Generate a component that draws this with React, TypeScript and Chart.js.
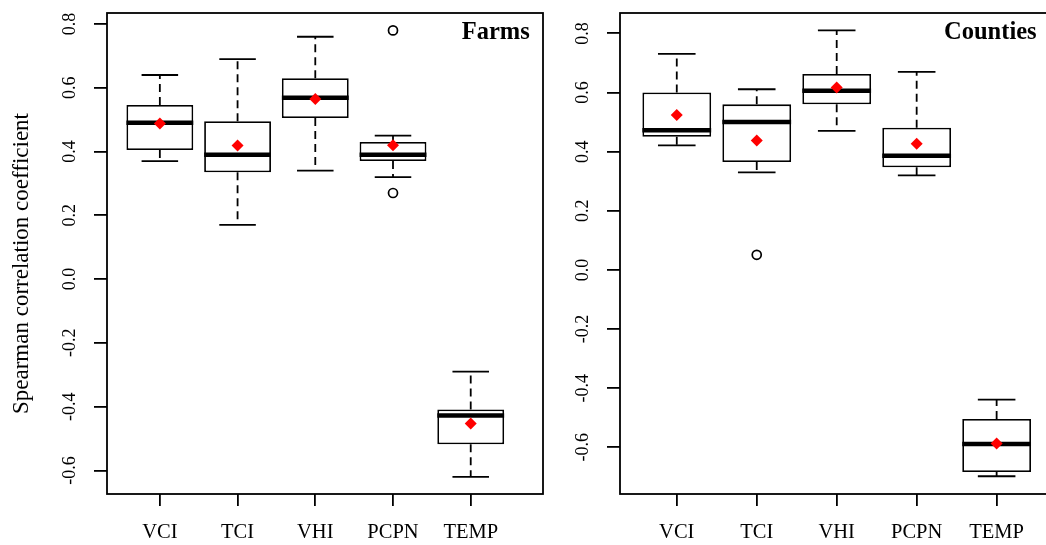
import React, { useEffect, useRef } from 'react';
import { Chart, registerables } from 'chart.js';

Chart.register(...registerables);

// ---------- data ----------
const categories = ['VCI', 'TCI', 'VHI', 'PCPN', 'TEMP'];
const yTickValues = [-0.6, -0.4, -0.2, 0, 0.2, 0.4, 0.6, 0.8];
const yTickLabels = ['-0.6', '-0.4', '-0.2', '0.0', '0.2', '0.4', '0.6', '0.8'];
const yAxisTitle = 'Spearman correlation coefficient';

// Farms panel
const farmsLow = [0.37, 0.17, 0.34, 0.32, -0.62];
const farmsQ1 = [0.405, 0.335, 0.505, 0.37, -0.518];
const farmsMedian = [0.49, 0.39, 0.569, 0.39, -0.428];
const farmsQ3 = [0.546, 0.495, 0.63, 0.43, -0.409];
const farmsHigh = [0.64, 0.69, 0.76, 0.45, -0.29];
const farmsMean = [0.488, 0.419, 0.565, 0.42, -0.453];
const farmsOutlierCat = [4, 4];
const farmsOutlierVal = [0.78, 0.27];

// Counties panel
const countiesLow = [0.421, 0.33, 0.47, 0.32, -0.698];
const countiesQ1 = [0.45, 0.365, 0.56, 0.347, -0.684];
const countiesMedian = [0.472, 0.5, 0.606, 0.386, -0.589];
const countiesQ3 = [0.6, 0.56, 0.663, 0.481, -0.504];
const countiesHigh = [0.731, 0.611, 0.81, 0.67, -0.439];
const countiesMean = [0.524, 0.438, 0.617, 0.427, -0.587];
const countiesOutlierCat = [2];
const countiesOutlierVal = [0.051];

// ---------- styling ----------
const FONT = '"Liberation Serif", "Times New Roman", serif';
const LW = 1.8;
const BOX_W = 0.86;
const CAP_W = 0.47;

type Panel = {
  title: string;
  titleX: number;
  low: number[]; q1: number[]; median: number[]; q3: number[]; high: number[];
  mean: number[]; outCat: number[]; outVal: number[];
  xMin: number; xMax: number; yMin: number; yMax: number;
  axisWidth: number; padRight: number; showYTitle: boolean;
};

const farmsPanel: Panel = {
  title: 'Farms', titleX: 5.76,
  low: farmsLow, q1: farmsQ1, median: farmsMedian, q3: farmsQ3, high: farmsHigh,
  mean: farmsMean, outCat: farmsOutlierCat, outVal: farmsOutlierVal,
  xMin: 0.32, xMax: 5.93, yMin: -0.674, yMax: 0.8345,
  axisWidth: 107, padRight: 17, showYTitle: true,
};

const countiesPanel: Panel = {
  title: 'Counties', titleX: 5.5,
  low: countiesLow, q1: countiesQ1, median: countiesMedian, q3: countiesQ3, high: countiesHigh,
  mean: countiesMean, outCat: countiesOutlierCat, outVal: countiesOutlierVal,
  xMin: 0.29, xMax: 5.93, yMin: -0.758, yMax: 0.869,
  axisWidth: 75, padRight: 34, showYTitle: false,
};

function makePlugin(p: Panel) {
  return {
    id: 'boxExtras',
    afterDatasetDraw(chart: any, args: any) {
      if (args.index !== 0) return;
      const ctx = chart.ctx;
      const xs = chart.scales.x;
      const ys = chart.scales.y;
      const meta = chart.getDatasetMeta(0);
      ctx.save();
      ctx.strokeStyle = '#000';
      ctx.lineCap = 'butt';
      p.median.forEach((m: number, i: number) => {
        const x = xs.getPixelForValue(i + 1);
        const bar = meta.data[i];
        const half = bar.width / 2;
        const capHalf = (xs.getPixelForValue(i + 1 + CAP_W / 2) - xs.getPixelForValue(i + 1 - CAP_W / 2)) / 2;
        // whiskers (dashed)
        ctx.lineWidth = LW;
        ctx.setLineDash([8, 5]);
        ctx.beginPath();
        ctx.moveTo(x, ys.getPixelForValue(p.q3[i]));
        ctx.lineTo(x, ys.getPixelForValue(p.high[i]));
        ctx.moveTo(x, ys.getPixelForValue(p.q1[i]));
        ctx.lineTo(x, ys.getPixelForValue(p.low[i]));
        ctx.stroke();
        // caps
        ctx.setLineDash([]);
        ctx.beginPath();
        const yh = ys.getPixelForValue(p.high[i]);
        const yl = ys.getPixelForValue(p.low[i]);
        ctx.moveTo(x - capHalf, yh); ctx.lineTo(x + capHalf, yh);
        ctx.moveTo(x - capHalf, yl); ctx.lineTo(x + capHalf, yl);
        ctx.stroke();
        // median
        ctx.lineWidth = 4.5;
        ctx.beginPath();
        const ym = ys.getPixelForValue(m);
        ctx.moveTo(x - half, ym); ctx.lineTo(x + half, ym);
        ctx.stroke();
      });
      ctx.restore();
    },
    afterDraw(chart: any) {
      const ctx = chart.ctx;
      const ca = chart.chartArea;
      const xs = chart.scales.x;
      const ys = chart.scales.y;
      ctx.save();
      // frame
      ctx.strokeStyle = '#000';
      ctx.lineWidth = LW;
      ctx.strokeRect(ca.left, ca.top, ca.right - ca.left, ca.bottom - ca.top);
      // panel title
      ctx.fillStyle = '#000';
      ctx.font = `bold 24.5px ${FONT}`;
      ctx.textAlign = 'right';
      ctx.textBaseline = 'alphabetic';
      ctx.fillText(p.title, xs.getPixelForValue(p.titleX), ca.top + 26);
      // rotated y tick labels
      ctx.font = `18px ${FONT}`;
      ctx.textAlign = 'center';
      ctx.textBaseline = 'middle';
      yTickValues.forEach((v, i) => {
        const y = ys.getPixelForValue(v);
        ctx.save();
        ctx.translate(ca.left - 37, y);
        ctx.rotate(-Math.PI / 2);
        ctx.fillText(yTickLabels[i], 0, 0);
        ctx.restore();
      });
      if (p.showYTitle) {
        ctx.save();
        ctx.font = `23px ${FONT}`;
        ctx.translate(22, (ca.top + ca.bottom) / 2 + 10);
        ctx.rotate(-Math.PI / 2);
        ctx.fillText(yAxisTitle, 0, 0);
        ctx.restore();
      }
      ctx.restore();
    },
  };
}

function makeConfig(p: Panel): any {
  return {
    type: 'bar',
    data: {
      datasets: [
        {
          type: 'bar',
          order: 3,
          data: categories.map((_, i) => ({ x: i + 1, y: [p.q1[i], p.q3[i]] })),
          backgroundColor: '#ffffff',
          borderColor: '#000000',
          borderWidth: LW,
          borderSkipped: false,
          categoryPercentage: 1,
          barPercentage: BOX_W,
        },
        {
          type: 'scatter',
          order: 1,
          data: categories.map((_, i) => ({ x: i + 1, y: p.mean[i] })),
          pointStyle: 'rectRot',
          pointRadius: 6,
          backgroundColor: '#ff0000',
          borderColor: '#ff0000',
          borderWidth: 0,
        },
        {
          type: 'scatter',
          order: 2,
          data: p.outCat.map((c, i) => ({ x: c, y: p.outVal[i] })),
          pointStyle: 'circle',
          pointRadius: 4.5,
          backgroundColor: 'rgba(0,0,0,0)',
          borderColor: '#000000',
          borderWidth: 1.7,
        },
      ],
    },
    options: {
      responsive: false,
      animation: false,
      events: [],
      layout: { padding: { left: 0, right: p.padRight, top: 13, bottom: 0 } },
      plugins: { legend: { display: false }, tooltip: { enabled: false }, title: { display: false } },
      scales: {
        x: {
          type: 'linear',
          min: p.xMin,
          max: p.xMax,
          offset: false,
          border: { display: false },
          grid: { display: true, offset: false, drawOnChartArea: false, drawTicks: true, tickLength: 12, color: '#000', lineWidth: LW },
          afterBuildTicks: (s: any) => { s.ticks = categories.map((_, i) => ({ value: i + 1 })); },
          afterFit: (s: any) => { s.height = 51; },
          ticks: {
            autoSkip: false,
            maxRotation: 0,
            minRotation: 0,
            padding: 14,
            color: '#000',
            font: { family: FONT, size: 20.5 },
            callback: (v: number) => categories[Math.round(v) - 1] ?? '',
          },
        },
        y: {
          type: 'linear',
          min: p.yMin,
          max: p.yMax,
          border: { display: false },
          grid: { display: true, drawOnChartArea: false, drawTicks: true, tickLength: 13, color: '#000', lineWidth: LW },
          afterBuildTicks: (s: any) => { s.ticks = yTickValues.map((v) => ({ value: v })); },
          afterFit: (s: any) => { s.width = p.axisWidth; },
          ticks: { display: false },
        },
      },
    },
    plugins: [makePlugin(p)],
  };
}

function PanelChart({ panel, left, width }: { panel: Panel; left: number; width: number }) {
  const ref = useRef<HTMLCanvasElement | null>(null);
  useEffect(() => {
    if (!ref.current) return;
    const chart = new Chart(ref.current, makeConfig(panel));
    return () => chart.destroy();
  }, [panel]);
  return (
    <canvas
      ref={ref}
      width={width}
      height={545}
      style={{ position: 'absolute', left, top: 0, width, height: 545, display: 'block' }}
    />
  );
}

export default function App() {
  return (
    <div
      style={{
        position: 'fixed', left: 0, top: 0, width: 1046, height: 545,
        overflow: 'hidden', background: '#ffffff',
      }}
    >
      <PanelChart panel={farmsPanel} left={0} width={560} />
      <PanelChart panel={countiesPanel} left={545} width={560} />
    </div>
  );
}
